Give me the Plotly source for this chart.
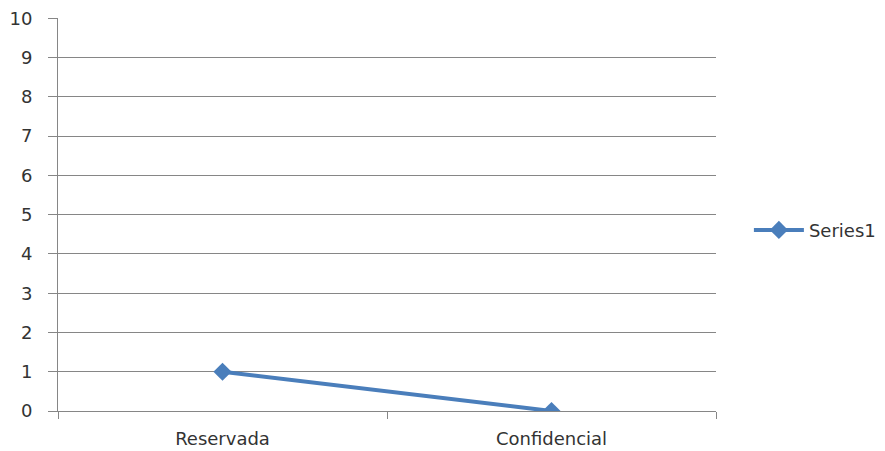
import plotly.graph_objects as go

categories = ["Reservada", "Confidencial"]
series1 = [1, 0]
y_ticks = list(range(0, 11))

fig = go.Figure()
fig.add_trace(go.Scatter(
    x=categories, y=series1, name="Series1", mode="lines+markers",
    line=dict(color="#4A7EBB", width=4),
    marker=dict(symbol="diamond", size=14, color="#4A7EBB"),
))

font_family = "DejaVu Sans, Liberation Sans, sans-serif"
fig.update_layout(
    width=885, height=451,
    margin=dict(l=50, r=177, t=10, b=48),
    paper_bgcolor="white", plot_bgcolor="white",
    font=dict(family=font_family, size=18, color="#333333"),
    showlegend=True,
    legend=dict(x=1.05, y=0.46, xanchor="left", yanchor="middle",
                font=dict(size=18, color="#333333"), itemwidth=50),
    xaxis=dict(
        type="category", range=[-0.5, 1.5], automargin=False,
        showgrid=False, showline=True, linecolor="#868686", linewidth=1,
        ticks="outside", tickson="boundaries", ticklen=7, tickcolor="#868686",
        ticklabelstandoff=11, mirror=False,
    ),
    yaxis=dict(
        range=[0, 10.01], tickvals=y_ticks, automargin=False,
        showgrid=True, gridcolor="#868686", gridwidth=1,
        showline=True, linecolor="#868686", linewidth=1,
        ticks="outside", ticklen=9, tickcolor="#868686",
        ticklabelstandoff=12, zeroline=False, ticklabeloverflow="allow",
    ),
)

fig.write_html("out.html")
